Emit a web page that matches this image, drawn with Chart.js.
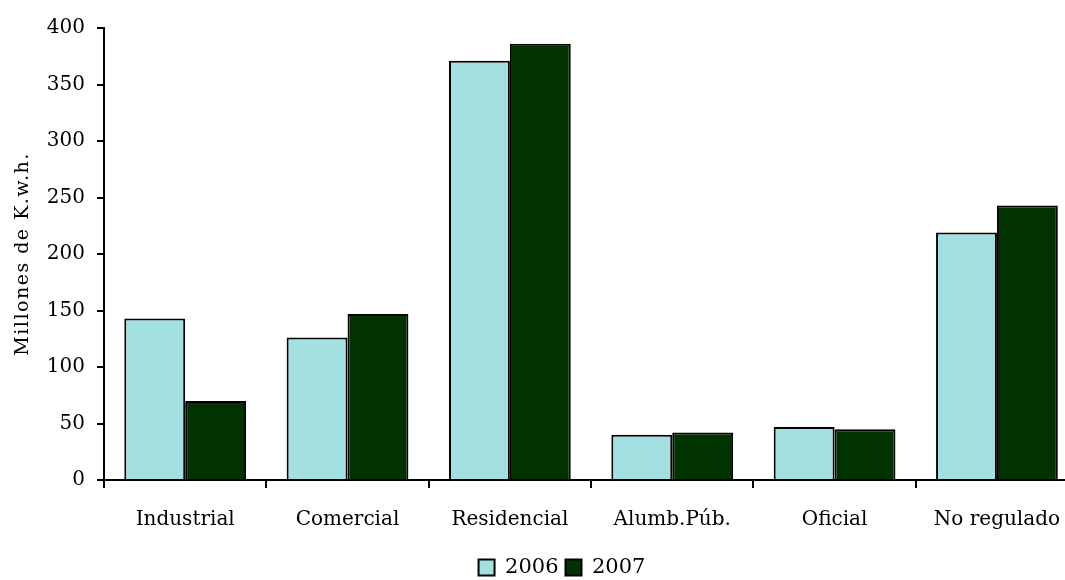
<!DOCTYPE html>
<html>
<head>
<meta charset="utf-8">
<script src="https://cdn.jsdelivr.net/npm/chart.js@4/dist/chart.umd.min.js"></script>
<style>
body{margin:0;overflow:hidden;background:#fff}
#wrap{width:1080px;height:580px}
</style>
</head>
<body>
<div id="wrap"><canvas id="chart1" width="1080" height="580"></canvas></div>
<script>
let categories = ['Industrial','Comercial','Residencial','Alumb.Púb.','Oficial','No regulado']
let values2006 = [143,126,371,40,47,219]
let values2007 = [70,147,386,42,45,243]
let yTicks = [0,50,100,150,200,250,300,350,400]

let fontName = "'DejaVu Serif', serif"

// wider letters for the y title, like the original
let spacedTitle = {
    id: 'spacedTitle',
    beforeDraw(chart) {
        let sc = chart.scales.y
        if (sc._patched) return
        let orig = sc.drawTitle
        sc.drawTitle = function() {
            let c = this.ctx
            c.save()
            c.letterSpacing = '1.5px'
            orig.apply(this, arguments)
            c.restore()
        }
        sc._patched = true
    }
}

// legend sits a bit right of center in the original
let legendShift = {
    id: 'legendShift',
    afterLayout(chart) {
        chart.legend.left += 22
        chart.legend.right += 22
    }
}

let ctx = document.getElementById('chart1').getContext('2d')
let myChart = new Chart(ctx, {
    type: 'bar',
    data: {
        labels: categories,
        datasets: [{
            label: '2006',
            data: values2006,
            backgroundColor: '#A2E0E2',
            borderColor: '#000',
            borderWidth: 2
        }, {
            label: '2007',
            data: values2007,
            backgroundColor: '#003300',
            borderColor: '#000',
            borderWidth: 2
        }]
    },
    options: {
        responsive: false,
        maintainAspectRatio: false,
        animation: false,
        layout: {padding: {top: 28, right: 0, bottom: -8, left: 0}},
        datasets: {bar: {categoryPercentage: 0.75, barPercentage: 1}},
        scales: {
            x: {
                grid: {drawOnChartArea: false, offset: true, color: '#000', lineWidth: 2, tickLength: 8},
                border: {color: '#000', width: 2},
                ticks: {color: '#000', padding: 20, font: {family: fontName, size: 20}},
                afterFit: function(scale){ scale.height = 70 }
            },
            y: {
                min: 0,
                max: 400,
                afterBuildTicks: function(scale){ scale.ticks = yTicks.map(v => ({value: v})) },
                grid: {drawOnChartArea: false, color: '#000', lineWidth: 2, tickLength: 7},
                border: {color: '#000', width: 2},
                ticks: {color: '#000', padding: 12, font: {family: fontName, size: 20}},
                title: {display: true, text: 'Millones de K.w.h.', color: '#000', padding: {top: 12, bottom: 0}, font: {family: fontName, size: 19}},
                afterFit: function(scale){ scale.width = 104 }
            }
        },
        plugins: {
            legend: {
                position: 'bottom',
                labels: {color: '#000', boxWidth: 16, boxHeight: 16, padding: 7, font: {family: fontName, size: 21}}
            },
            tooltip: {enabled: false}
        }
    },
    plugins: [spacedTitle, legendShift]
})
</script>
</body>
</html>
